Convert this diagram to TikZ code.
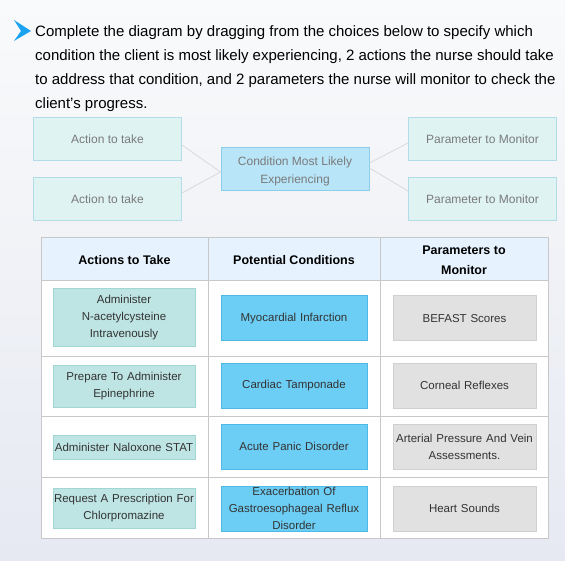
\documentclass[tikz,border=0pt]{standalone}
\usepackage{fontspec}
\setmainfont{Liberation Sans}
\definecolor{bgtop}{HTML}{F9FAFB}
\definecolor{bgbot}{HTML}{E6E9F2}
\definecolor{chev}{HTML}{1AA3F2}
\definecolor{topfill}{HTML}{DFF3F3}
\definecolor{topline}{HTML}{B3DDE6}
\definecolor{condtopfill}{HTML}{B8E5F8}
\definecolor{condtopline}{HTML}{8CCDEB}
\definecolor{greytext}{HTML}{7A7A7A}
\definecolor{connline}{HTML}{D9D9D9}
\definecolor{hdrfill}{HTML}{E6F2FD}
\definecolor{gridline}{HTML}{C8C8C8}
\definecolor{actfill}{HTML}{BEE5E4}
\definecolor{actline}{HTML}{A2D6D4}
\definecolor{condfill}{HTML}{6CCEF5}
\definecolor{condline}{HTML}{4FB9E6}
\definecolor{parfill}{HTML}{E1E1E1}
\definecolor{parline}{HTML}{D0D0D0}
\definecolor{darktext}{HTML}{333333}
\begin{document}
\begin{tikzpicture}[x=1pt,y=-1pt,
  titleline/.style={anchor=base west, inner sep=0pt, font=\fontsize{15}{18}\selectfont, text=black},
  topbox/.style={draw=topline, fill=topfill, line width=1pt, minimum width=148pt, minimum height=43pt, inner sep=0pt, text=greytext, font=\fontsize{12}{14}\selectfont},
  condtop/.style={topbox, draw=condtopline, fill=condtopfill},
  condtoptext/.style={inner sep=0pt, align=center, text=greytext, font=\fontsize{12}{18}\selectfont},
  conn/.style={draw=connline, line width=0.8pt},
  hdr/.style={font=\bfseries\fontsize{12.5}{20}\selectfont, text=black, align=center, inner sep=0pt},
  cellbox/.style={line width=1pt, inner sep=0pt, align=center, text=darktext, font=\fontsize{11.5}{17}\selectfont},
  actbox/.style={cellbox, draw=actline, fill=actfill, minimum width=142pt, text width=140pt},
  condbox/.style={cellbox, draw=condline, fill=condfill, minimum width=146pt, minimum height=45pt, text width=144pt},
  parbox/.style={cellbox, draw=parline, fill=parfill, minimum width=143pt, minimum height=45pt, text width=141pt}
]
\shade[top color=bgtop, bottom color=bgbot] (0,0) rectangle (565,561);
\useasboundingbox (0,0) rectangle (565,561);

% chevron
\fill[chev] (14,20) -- (31,31) -- (14,41) -- (21,31) -- cycle;

% title
\node[titleline] (t1) at (35,37) {Complete the diagram by dragging from the choices below to specify which};
\node[titleline] (t2) at (35,61) {condition the client is most likely experiencing, 2 actions the nurse should take};
\node[titleline] (t3) at (35,85) {to address that condition, and 2 parameters the nurse will monitor to check the};
\node[titleline] (t4) at (35,108.5) {client’s progress.};

% top diagram
\node[topbox] (a1) at (107.5,139.5) {Action to take};
\node[topbox] (a2) at (107.5,199.5) {Action to take};
\node[condtop] (c) at (295,169.5) {};
\node[condtoptext] (ct) at ([yshift=-2pt]c.center) {Condition Most Likely\\Experiencing};
\node[topbox] (p1) at (482.5,139.5) {Parameter to Monitor};
\node[topbox] (p2) at (482.5,199.5) {Parameter to Monitor};
\draw[conn] ([yshift=-5.5pt]a1.east) -- ([yshift=-2.5pt]c.west);
\draw[conn] ([yshift=6.5pt]a2.east) -- ([yshift=-2.5pt]c.west);
\draw[conn] ([yshift=6.5pt]c.east) -- ([yshift=-3.5pt]p1.west);
\draw[conn] ([yshift=1.5pt]c.east) -- ([yshift=8.5pt]p2.west);

% table
\fill[white] (41,281) rectangle (548,538);
\fill[hdrfill] (41,238) rectangle (548,281);
\draw[gridline, line width=1pt] (41,238) rectangle (548,538);
\draw[gridline, line width=1pt] (208,238) -- (208,538) (380,238) -- (380,538);
\draw[gridline, line width=1pt] (41,281) -- (548,281) (41,356) -- (548,356) (41,416) -- (548,416) (41,477) -- (548,477);

\node[hdr] (h1) at (124.5,260) {Actions to Take};
\node[hdr] (h2) at (294,260) {Potential Conditions};
\node[hdr] (h3) at (464,260) {Parameters to\\Monitor};

% row 1
\node[actbox, minimum height=58pt] (r1a) at (124,318) {Administer\\N-acetylcysteine\\Intravenously};
\node[condbox] (r1c) at (294,318.5) {Myocardial Infarction};
\node[parbox] (r1p) at (464.5,318.5) {BEFAST Scores};
% row 2
\node[actbox, minimum height=42pt] (r2a) at (124,386) {Prepare To Administer\\Epinephrine};
\node[condbox] (r2c) at (294,385.5) {Cardiac Tamponade};
\node[parbox] (r2p) at (464.5,385.5) {Corneal Reflexes};
% row 3
\node[actbox, minimum height=24pt] (r3a) at (124,447) {Administer Naloxone STAT};
\node[condbox] (r3c) at (294,446.5) {Acute Panic Disorder};
\node[parbox] (r3p) at (464.5,446.5) {Arterial Pressure And Vein\\Assessments.};
% row 4
\node[actbox, minimum height=40pt] (r4a) at (124,508) {Request A Prescription For\\Chlorpromazine};
\node[condbox] (r4c) at (294,508.5) {Exacerbation Of\\Gastroesophageal Reflux\\Disorder};
\node[parbox] (r4p) at (464.5,508.5) {Heart Sounds};
\end{tikzpicture}
\end{document}
